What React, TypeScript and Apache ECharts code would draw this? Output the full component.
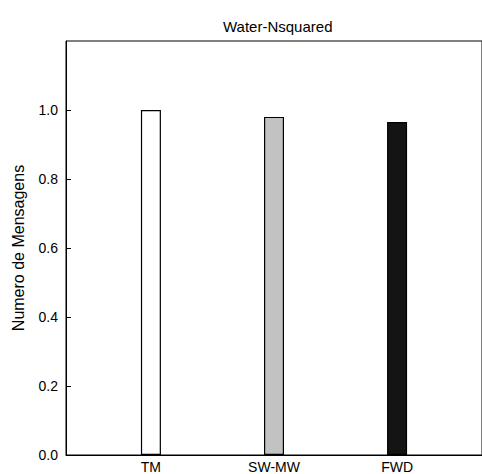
import React, { useEffect, useRef } from "react";
import * as echarts from "echarts";

const categories = ["TM", "SW-MW", "FWD"];
const positions = [1, 2, 3];
const messageCounts = [1.0, 0.98, 0.965];
const barColors = ["#ffffff", "#c2c2c2", "#141414"];
const yTicks = [0, 0.2, 0.4, 0.6, 0.8, 1.0];

const FONT = "'Liberation Sans', Arial, Helvetica, sans-serif";

export default function App() {
  const ref = useRef<HTMLDivElement>(null);

  useEffect(() => {
    if (!ref.current) return;
    const chart = echarts.init(ref.current, null, { renderer: "svg" });
    chart.setOption({
      animation: false,
      backgroundColor: "#ffffff",
      title: {
        text: "Water-Nsquared",
        left: 218,
        top: 14,
        textStyle: { fontFamily: FONT, fontSize: 15, fontWeight: "normal", color: "#000" },
      },
      grid: {
        left: 66,
        top: 41,
        right: -2,
        bottom: 19,
        show: true,
        borderColor: "#000",
        borderWidth: 1,
        backgroundColor: "transparent",
      },
      xAxis: {
        type: "value",
        min: 0.31,
        max: 3.69,
        axisLine: { show: true, lineStyle: { color: "#000", width: 1 } },
        axisTick: { show: false },
        splitLine: { show: false },
        axisLabel: {
          customValues: positions,
          margin: 5,
          fontFamily: FONT,
          fontSize: 14,
          color: "#000",
          formatter: (v: number) => {
            const i = positions.indexOf(Math.round(v));
            return i >= 0 ? categories[i] : "";
          },
        },
      },
      yAxis: {
        type: "value",
        min: 0,
        max: 1.2,
        interval: 0.2,
        name: "Numero de Mensagens",
        nameLocation: "middle",
        nameGap: 40,
        nameTextStyle: { fontFamily: FONT, fontSize: 16, color: "#000" },
        axisLine: { show: true, lineStyle: { color: "#000", width: 1 } },
        axisTick: {
          show: true,
          inside: true,
          length: 5,
          customValues: yTicks,
          lineStyle: { color: "#000" },
        },
        splitLine: { show: false },
        axisLabel: {
          customValues: yTicks,
          margin: 8,
          fontFamily: FONT,
          fontSize: 14,
          color: "#000",
          formatter: (v: number) => v.toFixed(1),
        },
      },
      series: [
        {
          type: "bar",
          barWidth: 20,
          data: positions.map((p, i) => ({
            value: [p, messageCounts[i]],
            itemStyle: {
              color: barColors[i],
              borderColor: "#000",
              borderWidth: 1.2,
            },
          })),
        },
      ],
    });
    return () => chart.dispose();
  }, []);

  return (
    <div
      ref={ref}
      style={{ position: "absolute", left: 0, top: 0, width: 482, height: 474 }}
    />
  );
}
